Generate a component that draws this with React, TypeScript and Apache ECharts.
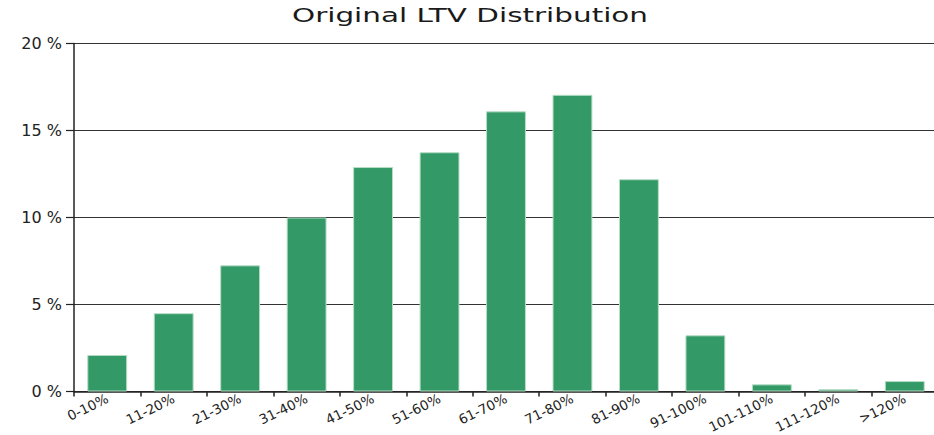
import React, { useEffect, useRef } from "react";
import * as echarts from "echarts";

const categories = ["0-10%", "11-20%", "21-30%", "31-40%", "41-50%", "51-60%", "61-70%", "71-80%", "81-90%", "91-100%", "101-110%", "111-120%", ">120%"];
const shares = [2.1, 4.5, 7.25, 10.0, 12.9, 13.75, 16.1, 17.05, 12.2, 3.23, 0.41, 0.13, 0.6];
const yTicks = [0, 5, 10, 15, 20];
const titleText = "Original LTV Distribution";

export default function App() {
  const ref = useRef<HTMLDivElement>(null);
  useEffect(() => {
    if (!ref.current) return;
    const chart = echarts.init(ref.current, null, { renderer: "svg" });
    chart.setOption({
      animation: false,
      backgroundColor: "#ffffff",
      textStyle: { fontFamily: "DejaVu Sans" },
      graphic: [
        {
          type: "text",
          x: 470,
          y: 15,
          scaleX: 1.55,
          scaleY: 1,
          style: {
            text: titleText,
            fontFamily: "DejaVu Sans",
            fontSize: 19,
            fill: "#1a1a1a",
            align: "center",
            verticalAlign: "middle",
          },
        },
      ],
      grid: { left: 74, right: -4, top: 43.5, bottom: 43.5, containLabel: false, outerBoundsMode: "none" },
      xAxis: {
        type: "category",
        data: categories,
        boundaryGap: true,
        axisLine: { show: true, lineStyle: { color: "#222", width: 1.5 } },
        axisTick: { show: true, length: 5, lineStyle: { color: "#222", width: 1.5 } },
        axisLabel: {
          rotate: 26,
          interval: 0,
          margin: 6,
          fontSize: 13.5,
          color: "#222",
          fontFamily: "DejaVu Sans",
        },
      },
      yAxis: {
        type: "value",
        min: yTicks[0],
        max: yTicks[yTicks.length - 1],
        interval: 5,
        axisLine: { show: true, lineStyle: { color: "#222", width: 1.5 } },
        axisTick: { show: true, length: 8, lineStyle: { color: "#222", width: 1.2 } },
        splitLine: { show: true, lineStyle: { color: "#333", width: 1.2 } },
        axisLabel: {
          margin: 12,
          fontSize: 16,
          color: "#222",
          fontFamily: "DejaVu Sans",
          formatter: (v: number) => `${v} %`,
        },
      },
      series: [
        {
          type: "bar",
          data: shares,
          barCategoryGap: "40%",
          itemStyle: { color: "#339966", borderColor: "#b5ddc5", borderWidth: 1 },
        },
      ],
    });
    return () => chart.dispose();
  }, []);
  return (
    <div style={{ position: "fixed", left: 0, top: 0, width: 934, height: 435, overflow: "hidden", background: "#fff" }}>
      <div ref={ref} style={{ width: 934, height: 435 }} />
    </div>
  );
}
